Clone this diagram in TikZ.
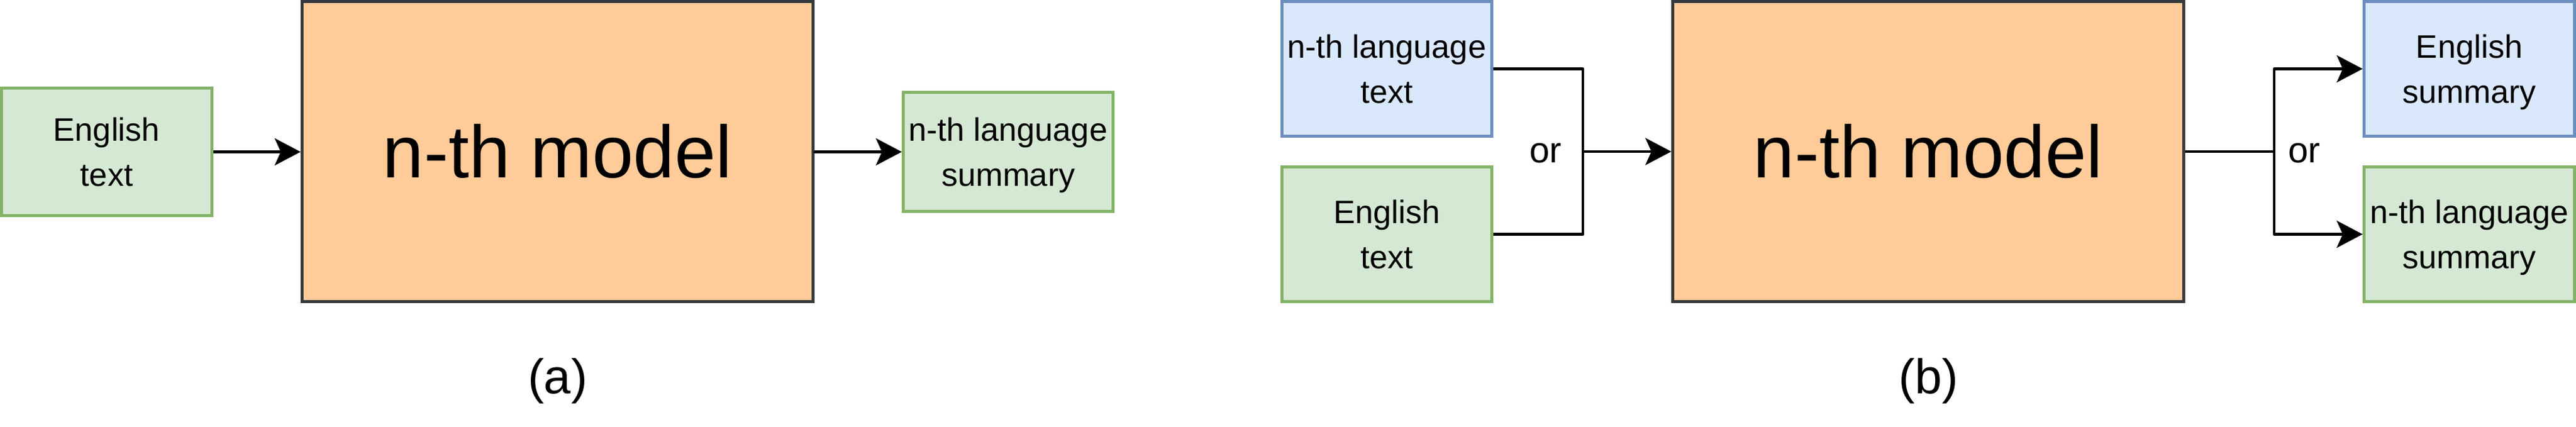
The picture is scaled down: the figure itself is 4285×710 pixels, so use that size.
\documentclass[tikz,border=0pt]{standalone}
\usepackage{fontspec}
\setmainfont{Liberation Sans}
\usetikzlibrary{arrows.meta}
\definecolor{gfill}{HTML}{D5E8D4}
\definecolor{gline}{HTML}{82B366}
\definecolor{bfill}{HTML}{DAE8FC}
\definecolor{bline}{HTML}{6C8EBF}
\definecolor{mfill}{HTML}{FFCC99}
\definecolor{mline}{HTML}{36393D}
\begin{document}
\begin{tikzpicture}[x=0.5pt,y=-0.5pt,
  box/.style={draw, line width=2.5pt, inner sep=0pt, align=center,
    font=\fontsize{27pt}{37.5pt}\selectfont},
  gbox/.style={box, draw=gline, fill=gfill},
  bbox/.style={box, draw=bline, fill=bfill},
  model/.style={draw=mline, fill=mfill, line width=2.5pt, inner sep=0pt,
    minimum width=425pt, minimum height=249.5pt,
    font=\fontsize{61.5pt}{70pt}\selectfont},
  conn/.style={line width=2.3pt, line join=round},
  arr/.style={conn, -{Stealth[length=21.5pt,width=22.5pt,inset=5pt]}},
  ortext/.style={font=\fontsize{30pt}{36pt}\selectfont, inner sep=0pt},
  sublabel/.style={font=\fontsize{40.5pt}{48pt}\selectfont, inner sep=0pt, anchor=base}
]
\useasboundingbox (0,0) rectangle (4285,710);

% (a)
\node[gbox, minimum width=175pt, minimum height=106pt] (ain) at (177.5,252.5) {English\\text};
\node[model] (amodel) at (927.5,252) {n-th model};
\node[gbox, minimum width=174.5pt, minimum height=99pt] (aout) at (1677,252.5) {n-th language\\summar\smash{y}};
\draw[arr] (ain.east) -- (ain.east -| amodel.west);
\draw[arr] (amodel.east) -- (amodel.east |- aout.west) -- (aout.west);
\node[sublabel] (alab) at (927.5,655) {(a)};

% (b)
\node[bbox, minimum width=174.5pt, minimum height=112pt] (bin1) at (2307,114.5) {n-th language\\text};
\node[gbox, minimum width=174.5pt, minimum height=112pt] (bin2) at (2307,389.5) {English\\text};
\node[model] (bmodel) at (3207.5,252) {n-th model};
\node[bbox, minimum width=175pt, minimum height=112pt] (bout1) at (4107.5,114.5) {English\\summar\smash{y}};
\node[gbox, minimum width=175pt, minimum height=112pt] (bout2) at (4107.5,389.5) {n-th language\\summar\smash{y}};
\coordinate (jl) at (2633,252);
\coordinate (jr) at (3783,252);
\draw[conn] (bin1.east) -| (jl) |- (bin2.east);
\draw[arr] (jl) -- (bmodel.west);
\draw[conn] (bmodel.east) -- (jr);
\draw[arr] (jr) |- (bout1.west);
\draw[arr] (jr) |- (bout2.west);
\node[ortext] (or1) at (2571,254.5) {or};
\node[ortext] (or2) at (3833,254.5) {or};
\node[sublabel] (blab) at (3207.5,655) {(b)};
\end{tikzpicture}
\end{document}
